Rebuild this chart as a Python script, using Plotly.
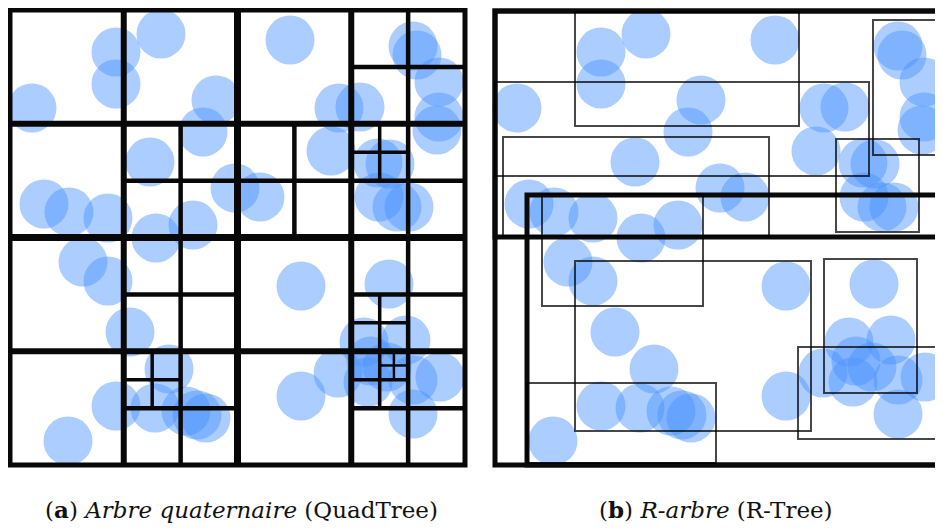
"""
QuadTree vs R-Tree: the same set of circles indexed two ways.
"""

import plotly.graph_objects as go

# circle centres, in the frame of the left panel (pixels)
circle_x = [116, 116, 161, 32, 216, 203, 150, 235, 260, 44, 69, 108, 156, 193,
            290, 339, 360, 413, 417, 439, 439, 437, 331, 378, 390, 379, 397, 409,
            83, 108, 130, 169, 116, 155, 186, 197, 206, 68,
            301, 389, 364, 406, 338, 371, 368, 387, 413, 440, 413, 301]
circle_y = [52, 84, 34, 108, 100, 132, 162, 188, 197, 204, 212, 218, 238, 225,
            40, 108, 107, 46, 55, 82, 117, 130, 151, 163, 164, 197, 207, 207,
            262, 281, 332, 369, 406, 408, 411, 415, 418, 441,
            286, 284, 342, 340, 373, 361, 382, 367, 380, 377, 414, 396]

# quadtree: outer box and the nodes that were split (depth, column, row)
qt_origin = 10
qt_size = 455
qt_split_depth = [0, 1, 1, 1, 1, 2, 2, 2, 2, 2, 2, 2, 2, 3, 3, 3, 3, 4]
qt_split_col = [0, 0, 1, 0, 1, 1, 3, 2, 3, 1, 1, 3, 3, 6, 2, 6, 6, 13]
qt_split_row = [0, 0, 0, 1, 1, 1, 0, 1, 1, 2, 3, 2, 3, 2, 6, 5, 6, 12]

# r-tree node rectangles (level 0 = root, 1 = inner, 2 = leaf)
rt_x0 = [10, 10, 42, 90, 10, 18, 388, 351, 57, 90, 42, 339, 313]
rt_y0 = [11, 11, 195, 12, 82, 137, 20, 139, 194, 261, 383, 259, 347]
rt_x1 = [480, 480, 480, 314, 384, 284, 480, 434, 218, 326, 231, 432, 480]
rt_y1 = [465, 237, 465, 126, 176, 236, 155, 232, 306, 431, 463, 393, 439]
rt_level = [0, 1, 1, 2, 2, 2, 2, 2, 2, 2, 2, 2, 2]

captions = [
    "(<b>a</b>) <i>Arbre quaternaire</i> (QuadTree)",
    "(<b>b</b>) <i>R-arbre</i> (R-Tree)",
]

CIRCLE_COLOR = "rgba(74,147,255,0.46)"
PAGE_W, PAGE_H = 943, 532
BODY = 8  # default page margin round the plot div
W, H = PAGE_W - BODY, PAGE_H - BODY


def circles(xaxis, yaxis):
    return go.Scatter(
        x=circle_x,
        y=circle_y,
        mode="markers",
        marker=dict(size=49, color=CIRCLE_COLOR, line=dict(width=0)),
        xaxis=xaxis,
        yaxis=yaxis,
        hoverinfo="skip",
    )


def quadtree_shapes():
    shapes = []
    line = dict(color="#080808", width=5)
    shapes.append(dict(type="rect", xref="x", yref="y", layer="above",
                       x0=qt_origin, y0=qt_origin,
                       x1=qt_origin + qt_size, y1=qt_origin + qt_size, line=line))
    widths = {0: 7, 1: 6, 2: 4.5, 3: 3.5, 4: 2.5}
    for d, c, r in zip(qt_split_depth, qt_split_col, qt_split_row):
        s = qt_size / 2 ** d
        x0 = qt_origin + c * s
        y0 = qt_origin + r * s
        lw = dict(color="#080808", width=widths[d])
        shapes.append(dict(type="line", xref="x", yref="y", layer="above",
                           x0=x0 + s / 2, x1=x0 + s / 2, y0=y0, y1=y0 + s, line=lw))
        shapes.append(dict(type="line", xref="x", yref="y", layer="above",
                           x0=x0, x1=x0 + s, y0=y0 + s / 2, y1=y0 + s / 2, line=lw))
    return shapes


def rtree_shapes():
    styles = {
        0: dict(color="#0a0a0a", width=5),
        1: dict(color="#0a0a0a", width=5),
        2: dict(color="rgba(0,0,0,0.72)", width=2),
    }
    shapes = []
    for x0, y0, x1, y1, lv in zip(rt_x0, rt_y0, rt_x1, rt_y1, rt_level):
        shapes.append(dict(type="rect", xref="x2", yref="y2", layer="above",
                           x0=x0, y0=y0, x1=x1, y1=y1, line=styles[lv]))
    return shapes


def main():
    fig = go.Figure([circles("x", "y"), circles("x2", "y2")])

    hidden = dict(visible=False, showgrid=False, zeroline=False)
    fig.update_layout(
        width=W,
        height=H,
        margin=dict(l=0, r=0, t=0, b=0),
        paper_bgcolor="white",
        plot_bgcolor="white",
        showlegend=False,
        xaxis=dict(domain=[0, (470 - BODY) / W], range=[BODY, 470], **hidden),
        yaxis=dict(domain=[0, 1], range=[PAGE_H, BODY], **hidden),
        xaxis2=dict(domain=[(480 - BODY) / W, 1], range=[-5, 458],
                    anchor="y2", **hidden),
        yaxis2=dict(domain=[0, 1], range=[PAGE_H, BODY], anchor="x2", **hidden),
        shapes=quadtree_shapes() + rtree_shapes(),
    )

    for text, cx in zip(captions, [242, 716]):
        fig.add_annotation(
            text=text,
            xref="paper",
            yref="paper",
            x=(cx - BODY) / W,
            y=1 - (509 - BODY) / H,
            xanchor="center",
            yanchor="middle",
            showarrow=False,
            font=dict(family="DejaVu Serif", size=23, color="#111"),
        )

    fig.write_html("out.html")


if __name__ == "__main__":
    main()
